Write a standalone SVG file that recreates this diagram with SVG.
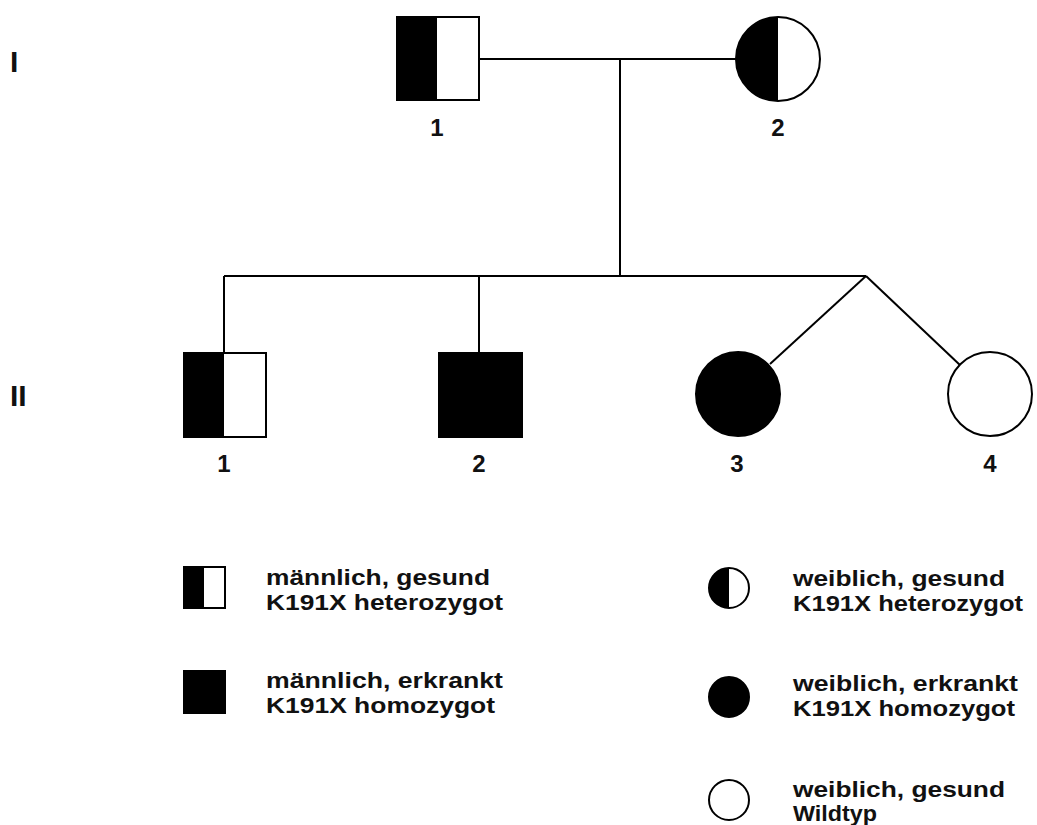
<svg xmlns="http://www.w3.org/2000/svg" width="1037" height="825" viewBox="0 0 1037 825">
<style>
.ln{stroke:#000;stroke-width:2;fill:none}
.sym{stroke:#000;stroke-width:2}
.t{font-family:"Liberation Sans",Arial,sans-serif;font-weight:bold;fill:#111}
.lab{font-size:24px;text-anchor:middle}
.gen{font-size:30px}
.leg{font-size:22px}
</style>
<rect width="1037" height="825" fill="#fff"/>
<g id="gen-labels">
<text class="t gen" x="10" y="72">I</text>
<text class="t gen" x="10" y="406">II</text>
</g>
<g id="connectors">
<line class="ln" x1="479" y1="59" x2="736" y2="59"/>
<line class="ln" x1="620" y1="59" x2="620" y2="276"/>
<line class="ln" x1="224" y1="276" x2="866" y2="276"/>
<line class="ln" x1="224" y1="276" x2="224" y2="353"/>
<line class="ln" x1="479" y1="276" x2="479" y2="353"/>
<line class="ln" x1="866" y1="276" x2="770" y2="364"/>
<line class="ln" x1="866" y1="276" x2="961" y2="366"/>
</g>
<g id="I-1">
<rect class="sym" x="397" y="17" width="82" height="83" fill="#fff"/>
<rect x="397" y="17" width="40" height="83" fill="#000"/>
<text class="t lab" x="437" y="136">1</text>
</g>
<g id="I-2">
<circle class="sym" cx="778" cy="59" r="42" fill="#fff"/>
<path d="M778,17 A42,42 0 0 0 778,101 Z" fill="#000"/>
<text class="t lab" x="778" y="136">2</text>
</g>
<g id="II-1">
<rect class="sym" x="184" y="353" width="82" height="84" fill="#fff"/>
<rect x="184" y="353" width="40" height="84" fill="#000"/>
<text class="t lab" x="224" y="472">1</text>
</g>
<g id="II-2">
<rect class="sym" x="439" y="353" width="83" height="84" fill="#000"/>
<text class="t lab" x="479" y="472">2</text>
</g>
<g id="II-3">
<circle class="sym" cx="738" cy="394" r="42" fill="#000"/>
<text class="t lab" x="737" y="472">3</text>
</g>
<g id="II-4">
<circle class="sym" cx="990" cy="394" r="42" fill="#fff"/>
<text class="t lab" x="990" y="472">4</text>
</g>
<g id="legend-male-het">
<rect class="sym" x="184" y="567" width="41" height="41" fill="#fff"/>
<rect x="184" y="567" width="20" height="41" fill="#000"/>
<text class="t leg" x="266" y="585" textLength="224" lengthAdjust="spacingAndGlyphs">männlich, gesund</text>
<text class="t leg" x="266" y="610" textLength="237" lengthAdjust="spacingAndGlyphs">K191X heterozygot</text>
</g>
<g id="legend-male-hom">
<rect class="sym" x="184" y="671" width="41" height="42" fill="#000"/>
<text class="t leg" x="266" y="688" textLength="237" lengthAdjust="spacingAndGlyphs">männlich, erkrankt</text>
<text class="t leg" x="266" y="713" textLength="229" lengthAdjust="spacingAndGlyphs">K191X homozygot</text>
</g>
<g id="legend-female-het">
<circle class="sym" cx="729" cy="588" r="20" fill="#fff"/>
<path d="M729,568 A20,20 0 0 0 729,608 Z" fill="#000"/>
<text class="t leg" x="793" y="586" textLength="212" lengthAdjust="spacingAndGlyphs">weiblich, gesund</text>
<text class="t leg" x="793" y="611" textLength="230" lengthAdjust="spacingAndGlyphs">K191X heterozygot</text>
</g>
<g id="legend-female-hom">
<circle class="sym" cx="729" cy="697" r="20" fill="#000"/>
<text class="t leg" x="793" y="691" textLength="225" lengthAdjust="spacingAndGlyphs">weiblich, erkrankt</text>
<text class="t leg" x="793" y="716" textLength="222" lengthAdjust="spacingAndGlyphs">K191X homozygot</text>
</g>
<g id="legend-female-wt">
<circle class="sym" cx="729" cy="800" r="20" fill="#fff"/>
<text class="t leg" x="793" y="797" textLength="212" lengthAdjust="spacingAndGlyphs">weiblich, gesund</text>
<text class="t leg" x="793" y="821" textLength="84" lengthAdjust="spacingAndGlyphs">Wildtyp</text>
</g>
</svg>
